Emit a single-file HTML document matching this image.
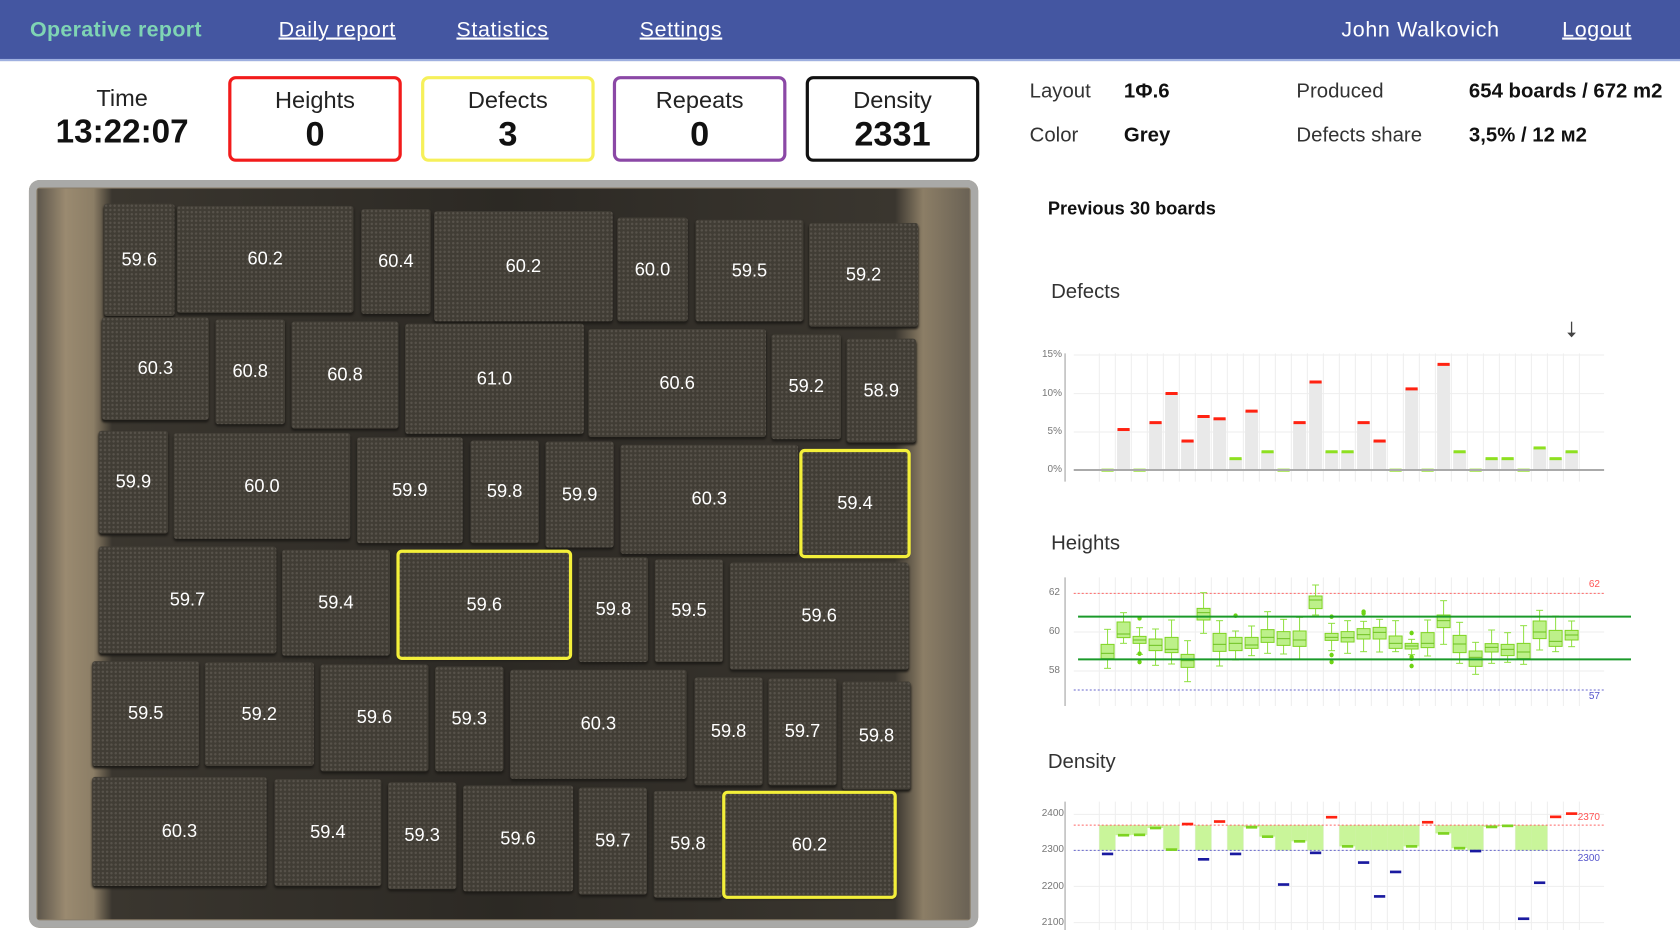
<!DOCTYPE html>
<html><head><meta charset="utf-8">
<style>
html,body{margin:0;padding:0;width:1680px;height:945px;overflow:hidden;background:#fff;font-family:"Liberation Sans",sans-serif;}
#w{position:absolute;left:0;top:0;width:1568px;height:882px;transform:scale(1.07143);transform-origin:0 0;}
.hdr{position:absolute;left:0;top:0;width:1568px;height:57px;background:#4456a1;border-bottom:2px solid #9fb0e0;box-sizing:border-box;}
.hdr span{position:absolute;top:17px;font-size:20px;color:#fff;letter-spacing:0.6px;}
.hdr u{text-decoration:underline;}
.kpi{position:absolute;top:71px;width:162px;height:80px;box-sizing:border-box;border:3px solid;border-radius:7px;text-align:center;}
.kl{position:absolute;left:0;right:0;top:7px;font-size:22px;color:#222;}
.kv{position:absolute;left:0;right:0;top:33px;font-size:32px;font-weight:bold;color:#111;}
.t{position:absolute;font-size:19px;color:#333;white-space:nowrap;}
.b{font-weight:bold;color:#111;}
.tray{position:absolute;left:27px;top:168px;width:886px;height:698px;border-radius:10px;background:#8a7d68;box-shadow:inset 0 0 0 7px #a9a9a7;}
.in{position:absolute;left:35px;top:176px;width:870px;height:682px;background:linear-gradient(90deg,#5e574c,#9a8a70 3%,#8c7e66 6%,#3a362f 8%,#2c2924 50%,#3a362f 92%,#8c7e66 95%,#6a6255);}
.bk{position:absolute;background:#413d35;background-image:radial-gradient(#57524a 1px,transparent 1px);background-size:4px 4px;border-radius:3px;color:#fff;font-size:17px;display:flex;align-items:center;justify-content:center;box-shadow:0 2px 2px #1e1c18;}
.y{outline:3px solid #f3ef3a;outline-offset:-1px;}
.lab{position:absolute;font-size:10px;color:#777;text-align:right;width:40px;}
</style></head><body>
<div id="w">
<div class="hdr">
<span style="left:28px;color:#7fd4b4;font-weight:bold;letter-spacing:0.3px">Operative report</span>
<span style="left:260px;"><u>Daily report</u></span>
<span style="left:426px;"><u>Statistics</u></span>
<span style="left:597px;"><u>Settings</u></span>
<span style="left:1252px;">John Walkovich</span>
<span style="left:1458px;"><u>Logout</u></span>
</div>
<div class="t" style="left:54px;top:79px;width:120px;text-align:center;font-size:22px;color:#222">Time</div>
<div class="t" style="left:44px;top:105px;width:140px;text-align:center;font-size:31px;font-weight:bold;color:#111">13:22:07</div>
<div class="kpi" style="left:213px;border-color:#f21b1b"><div class="kl">Heights</div><div class="kv">0</div></div>
<div class="kpi" style="left:393px;border-color:#f6f05a"><div class="kl">Defects</div><div class="kv">3</div></div>
<div class="kpi" style="left:572px;border-color:#8b48a6"><div class="kl">Repeats</div><div class="kv">0</div></div>
<div class="kpi" style="left:752px;border-color:#111"><div class="kl">Density</div><div class="kv">2331</div></div>
<div class="t" style="left:961px;top:75px">Layout</div>
<div class="t b" style="left:1049px;top:75px">1Ф.6</div>
<div class="t" style="left:1210px;top:75px">Produced</div>
<div class="t b" style="left:1371px;top:75px">654 boards / 672 m2</div>
<div class="t" style="left:961px;top:116px">Color</div>
<div class="t b" style="left:1049px;top:116px">Grey</div>
<div class="t" style="left:1210px;top:116px">Defects share</div>
<div class="t b" style="left:1371px;top:116px">3,5% / 12 м2</div>
<div class="t b" style="left:978px;top:185px;font-size:17px">Previous 30 boards</div>
<div class="t" style="left:981px;top:262px">Defects</div>
<div class="t" style="left:981px;top:497px">Heights</div>
<div class="t" style="left:978px;top:701px">Density</div>
<div class="tray"></div><div class="in"></div>
<div id="bricks"></div>
</div>
<svg id="s1" style="position:absolute;left:1000px;top:320px" width="680" height="180" viewBox="0 0 1568 540" preserveAspectRatio="none"></svg>
<svg id="s2" style="position:absolute;left:1000px;top:560px" width="680" height="385" viewBox="0 0 1568 1155" preserveAspectRatio="none"></svg>
<div class="lab" style="left:1022px;top:349px">15%</div>
<div class="lab" style="left:1022px;top:388px">10%</div>
<div class="lab" style="left:1022px;top:426px">5%</div>
<div class="lab" style="left:1022px;top:464px">0%</div>
<div class="lab" style="left:1020px;top:587px">62</div>
<div class="lab" style="left:1020px;top:626px">60</div>
<div class="lab" style="left:1020px;top:665px">58</div>
<div class="lab" style="left:1560px;top:579px;color:#f55">62</div>
<div class="lab" style="left:1560px;top:691px;color:#55c">57</div>
<div class="lab" style="left:1024px;top:808px">2400</div>
<div class="lab" style="left:1024px;top:844px">2300</div>
<div class="lab" style="left:1024px;top:881px">2200</div>
<div class="lab" style="left:1024px;top:917px">2100</div>
<div class="lab" style="left:1560px;top:812px;color:#f55">2370</div>
<div class="lab" style="left:1560px;top:853px;color:#55c">2300</div>
<script>
var B=[[97,190,163,295,'59.6'],[165,192,330,292,'60.2'],[337,195,402,293,'60.4'],[405,197,572,300,'60.2'],[576,203,642,300,'60.0'],[649,205,750,300,'59.5'],[755,208,857,305,'59.2'],
[95,296,195,392,'60.3'],[201,298,266,396,'60.8'],[272,300,372,400,'60.8'],[378,302,545,405,'61.0'],[549,307,715,408,'60.6'],[720,312,785,410,'59.2'],[790,316,855,413,'58.9'],
[92,402,157,498,'59.9'],[162,404,327,503,'60.0'],[333,408,432,507,'59.9'],[439,411,503,507,'59.8'],[509,412,573,511,'59.9'],[579,415,745,517,'60.3'],[748,421,848,519,'59.4',1],
[92,510,258,610,'59.7'],[263,513,364,612,'59.4'],[372,515,532,614,'59.6',1],[540,520,605,618,'59.8'],[611,522,675,618,'59.5'],[681,525,848,625,'59.6'],
[86,617,186,715,'59.5'],[191,618,293,715,'59.2'],[299,620,400,720,'59.6'],[406,622,470,720,'59.3'],[476,625,641,727,'60.3'],[648,632,712,733,'59.8'],[717,633,781,733,'59.7'],[786,636,850,737,'59.8'],
[86,725,249,827,'60.3'],[256,727,356,827,'59.4'],[362,730,426,830,'59.3'],[432,733,535,832,'59.6'],[540,735,604,835,'59.7'],[610,738,674,838,'59.8'],[676,740,835,837,'60.2',1]];
var h='';B.forEach(function(b){h+='<div class="bk'+(b[5]?' y':'')+'" style="left:'+b[0]+'px;top:'+b[1]+'px;width:'+(b[2]-b[0])+'px;height:'+(b[3]-b[1])+'px">'+b[4]+'</div>';});
document.getElementById('bricks').innerHTML=h;
function cx(i){return 248+i*36.9;}
var ns=' vector-effect="non-scaling-stroke"';
function L(x1,y1,x2,y2,c,w,d){return '<line x1="'+x1+'" y1="'+y1+'" x2="'+x2+'" y2="'+y2+'" stroke="'+c+'" stroke-width="'+w+'"'+(d?' stroke-dasharray="'+d+'"':'')+ns+'/>';}
function R(x,y,w,hh,f,s){return '<rect x="'+x+'" y="'+y+'" width="'+w+'" height="'+hh+'" fill="'+f+'"'+(s?' stroke="'+s+'" stroke-width="1"'+ns:'')+'/>';}
var s='';
[105,221,336].forEach(function(y){s+=L(170,y,1393,y,'#eee',1);});
for(var i=0;i<=30;i++){var x=229+i*36.9;s+=L(x,100,x,485,'#eee',1);}
var D=[0,5.3,0,6.2,10,3.8,7,6.7,1.5,7.7,2.4,0,6.2,11.5,2.4,2.4,6.2,3.8,0,10.6,0,13.8,2.4,0,1.5,1.5,0,2.9,1.5,2.4];
D.forEach(function(v,i){var y=450-23*v;if(v>0)s+=R(cx(i)-15,y,30,450-y,'#e9e9e9');s+=R(cx(i)-14,y-4,28,9,v>=3.8?'#f21':'#8ee020');});
s+=L(170,450,1393,450,'#aaa',2)+L(150,100,150,485,'#999',1);
s+=L(1318,5,1318,42,'#444',1.3)+'<polygon points="1308,38 1328,38 1318,52" fill="#444"/>';
document.getElementById('s1').innerHTML=s;
s='';
[100,216,333].forEach(function(y){s+=L(170,y,1393,y,'#eee',1);});
for(i=0;i<=30;i++){x=229+i*36.9;s+=L(x,52,x,438,'#eee',1);s+=L(x,725,x,1110,'#eee',1);}
[763,871,979,1088].forEach(function(y){s+=L(170,y,1393,y,'#eee',1);});
s+=L(170,100,1393,100,'#f66',1,'2,2')+L(170,390,1393,390,'#66c',1,'2,2');
var H=[[253,296,280,208,325],[186,233,222,158,250],[229,250,240,203,283,175,281,306],[237,272,256,207,316],[232,278,268,180,312],[283,322,302,242,365],[145,180,158,98,220],[220,274,253,182,318],[232,272,250,213,300,167],[232,265,255,198,287],[209,247,232,155,280],[215,256,236,178,282],[213,259,240,172,297],[108,146,120,75,165],[220,241,232,190,272,170,285,306],[215,246,233,182,280],[206,237,224,184,275,155,160],[202,237,217,178,276],[228,265,250,182,275],[250,267,258,238,284,219,291,296,318],[218,263,250,180,288],[165,203,182,122,253],[226,278,252,187,310],[273,319,292,247,343],[251,276,262,210,310],[253,287,268,218,307],[250,296,276,197,313],[183,236,216,151,270],[211,259,244,168,275],[211,240,225,183,260]];
H.forEach(function(a,i){var c=cx(i);s+=L(c,a[3],c,a[0],'#8fe040',1)+L(c,a[1],c,a[4],'#8fe040',1)+L(c-8,a[3],c+8,a[3],'#8fe040',1)+L(c-8,a[4],c+8,a[4],'#8fe040',1);
s+=R(c-15,a[0],30,a[1]-a[0],'#bdf08a','#7ed321')+L(c-15,a[2],c+15,a[2],'#6cc020',1);
for(var k=5;k<a.length;k++)s+='<ellipse cx="'+c+'" cy="'+a[k]+'" rx="5" ry="7" fill="#6ed414"/>';});
s+=L(180,170,1455,170,'#1a9a2a',2)+L(180,298,1455,298,'#1a9a2a',2)+L(150,52,150,438,'#999',1);
function dy(v){return 871-(v-2300)*1.08;}
var DV=[2290,2342,2343,2362,2302,2373,2275,2380,2290,2364,2338,2205,2325,2293,2392,2311,2266,2172,2240,2311,2378,2347,2306,2298,2365,2368,2110,2210,2393,2402];
DV.forEach(function(v,i){if(v<2370){var t=dy(2370),b=dy(Math.max(v,2300));s+=R(229+i*36.9,t,37,b-t,'#c9f59a');}});
s+=L(170,dy(2370),1393,dy(2370),'#f66',1,'2,2')+L(170,871,1393,871,'#66c',1,'2,2');
DV.forEach(function(v,i){s+=R(cx(i)-13,dy(v)-4,26,8,v>2370?'#f21':(v<2300?'#1a1aa0':'#7ed321'));});
s+=L(150,725,150,1110,'#999',1);
document.getElementById('s2').innerHTML=s;
</script>
</body></html>
